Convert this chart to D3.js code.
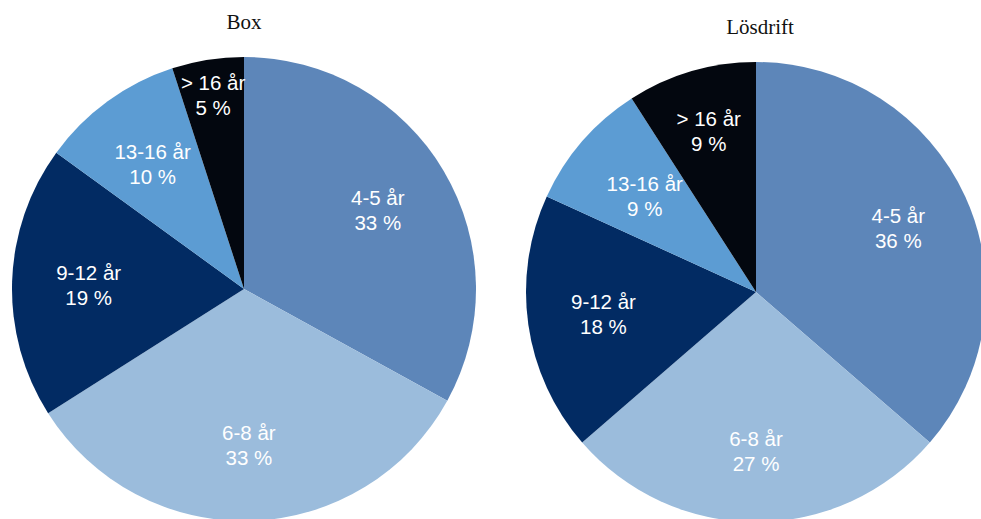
<!DOCTYPE html>
<html>
<head>
<meta charset="utf-8">
<script src="https://cdn.jsdelivr.net/npm/d3@7"></script>
<style>
  html, body { margin: 0; padding: 0; background: #ffffff; overflow: hidden; }
  svg { display: block; }
</style>
</head>
<body>
<svg id="chart" width="981" height="519"></svg>
<script>
// Age groups shared by both housing systems
const categories = ["4-5 år", "6-8 år", "9-12 år", "13-16 år", "> 16 år"];
// Share of cows per age group (%)
const boxValues = [33, 33, 19, 10, 5];
const losdriftValues = [36, 27, 18, 9, 9];
const titles = ["Box", "Lösdrift"];

const colors = ["#5d86b9", "#9bbcdc", "#022b63", "#5c9cd3", "#03070f"];

const svg = d3.select("#chart");
const color = d3.scaleOrdinal().domain(categories).range(colors);

const panels = [
  { title: titles[0], values: boxValues, cx: 244, cy: 289, r: 232, titleY: 29,
    labelFactor: [0.67, 0.67, 0.67, 0.67, 0.85] },
  { title: titles[1], values: losdriftValues, cx: 756, cy: 292, r: 230, titleY: 34, titleX: 760,
    labelFactor: [0.68, 0.69, 0.67, 0.64, 0.73] }
];

const pie = d3.pie().sort(null).value(d => d.value);

panels.forEach(p => {
  const data = categories.map((c, i) => ({ cat: c, value: p.values[i], idx: i }));
  const arcs = pie(data);
  const arc = d3.arc().innerRadius(0).outerRadius(p.r);

  const g = svg.append("g").attr("transform", `translate(${p.cx},${p.cy})`);

  g.selectAll("path.slice")
    .data(arcs)
    .join("path")
    .attr("class", "slice")
    .attr("d", arc)
    .attr("fill", d => color(d.data.cat));

  const labels = g.selectAll("text.lbl")
    .data(arcs)
    .join("text")
    .attr("class", "lbl")
    .attr("transform", d => {
      const rr = p.r * p.labelFactor[d.data.idx];
      const c = d3.arc().innerRadius(rr).outerRadius(rr).centroid(d);
      return `translate(${c[0]},${c[1]})`;
    })
    .attr("text-anchor", "middle")
    .attr("fill", "#ffffff")
    .style("font-family", "'Liberation Sans', Arial, sans-serif")
    .style("font-size", "20.5px");

  labels.append("tspan").attr("x", 0).attr("y", -4.5).text(d => d.data.cat);
  labels.append("tspan").attr("x", 0).attr("y", 20.5).text(d => d.data.value + " %");

  svg.append("text")
    .attr("x", p.titleX || p.cx)
    .attr("y", p.titleY)
    .attr("text-anchor", "middle")
    .attr("fill", "#111111")
    .style("font-family", "'Liberation Serif', 'Times New Roman', serif")
    .style("font-size", "21px")
    .text(p.title);
});
</script>
</body>
</html>
